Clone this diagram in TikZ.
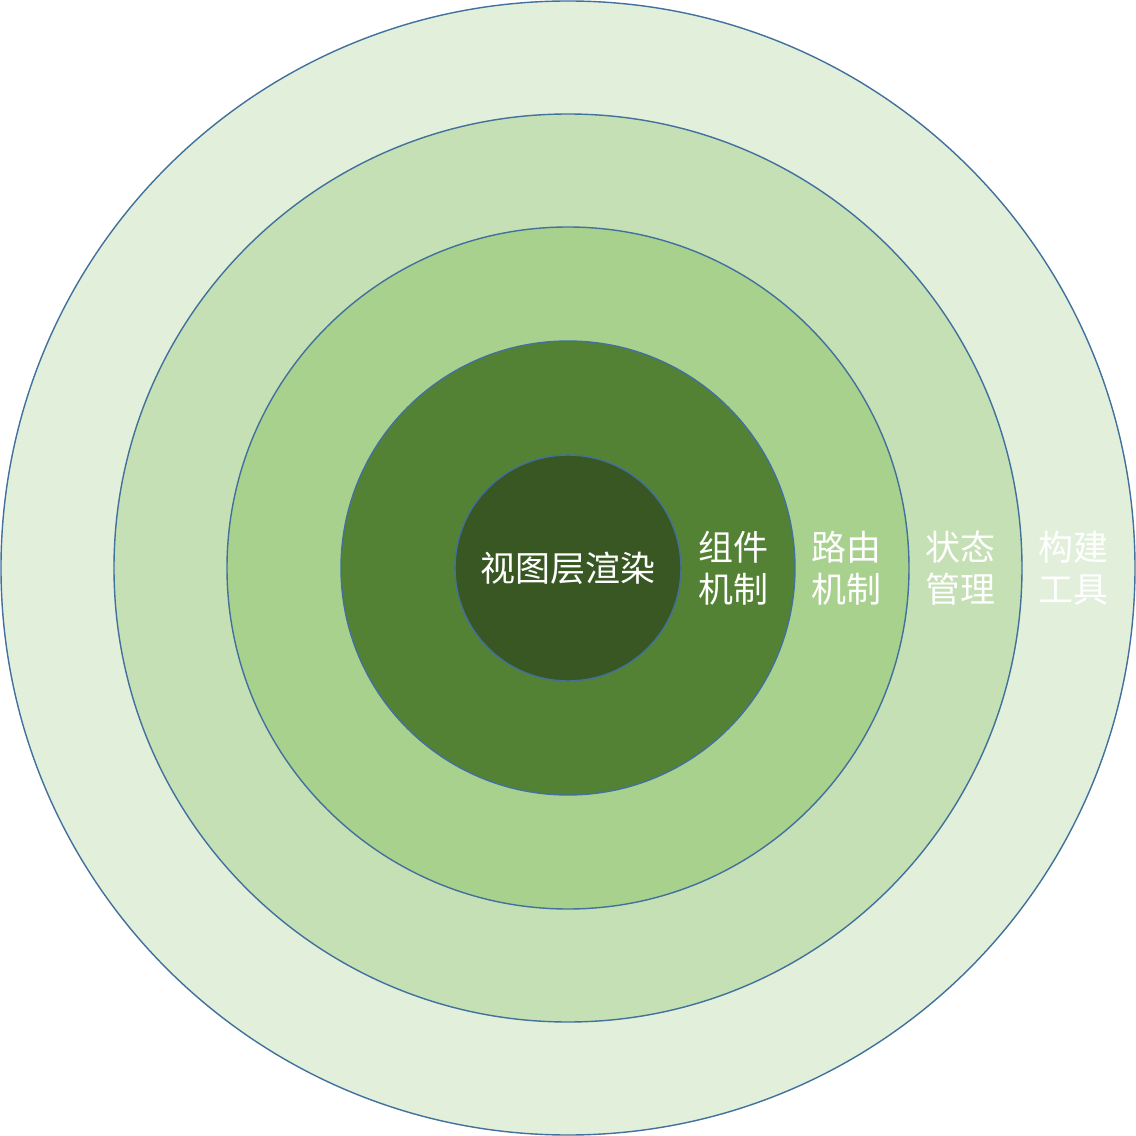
\documentclass[tikz,border=0pt]{standalone}
\usepackage{fontspec}
\newfontfamily\cjk{Noto Sans CJK SC}
\usetikzlibrary{positioning}
\definecolor{ringedge}{RGB}{65, 113, 156}
\definecolor{ringa}{RGB}{226, 239, 218}
\definecolor{ringb}{RGB}{197, 224, 180}
\definecolor{ringc}{RGB}{169, 209, 142}
\definecolor{ringd}{RGB}{84, 130, 53}
\definecolor{ringe}{RGB}{56, 87, 35}
\tikzset{
    ring/.style={circle, draw=ringedge, line width=0.8pt, inner sep=0pt},
    layer/.style={text=white, align=center, inner sep=0pt, font=\cjk\fontsize{19.9}{23.9}\selectfont}
}
\begin{document}
\begin{tikzpicture}
    \useasboundingbox (-11.36,-11.36) rectangle (11.36,11.36);
    \node (build) [ring, fill=ringa, minimum size=22.68cm] at (0,0) {};
    \node (state) [ring, fill=ringb, minimum size=18.16cm] at (0,0) {};
    \node (route) [ring, fill=ringc, minimum size=13.64cm] at (0,0) {};
    \node (comp) [ring, fill=ringd, minimum size=9.08cm] at (0,0) {};
    \node (view) [ring, fill=ringe, minimum size=4.52cm, layer] at (0,0) {视图层渲染};

    \node (comptext) [layer] at (3.3,0) {组件\\机制};
    \node (routetext) [layer] at (5.56,0) {路由\\机制};
    \node (statetext) [layer] at (7.84,0) {状态\\管理};
    \node (buildtext) [layer] at (10.1,0) {构建\\工具};
\end{tikzpicture}
\end{document}
